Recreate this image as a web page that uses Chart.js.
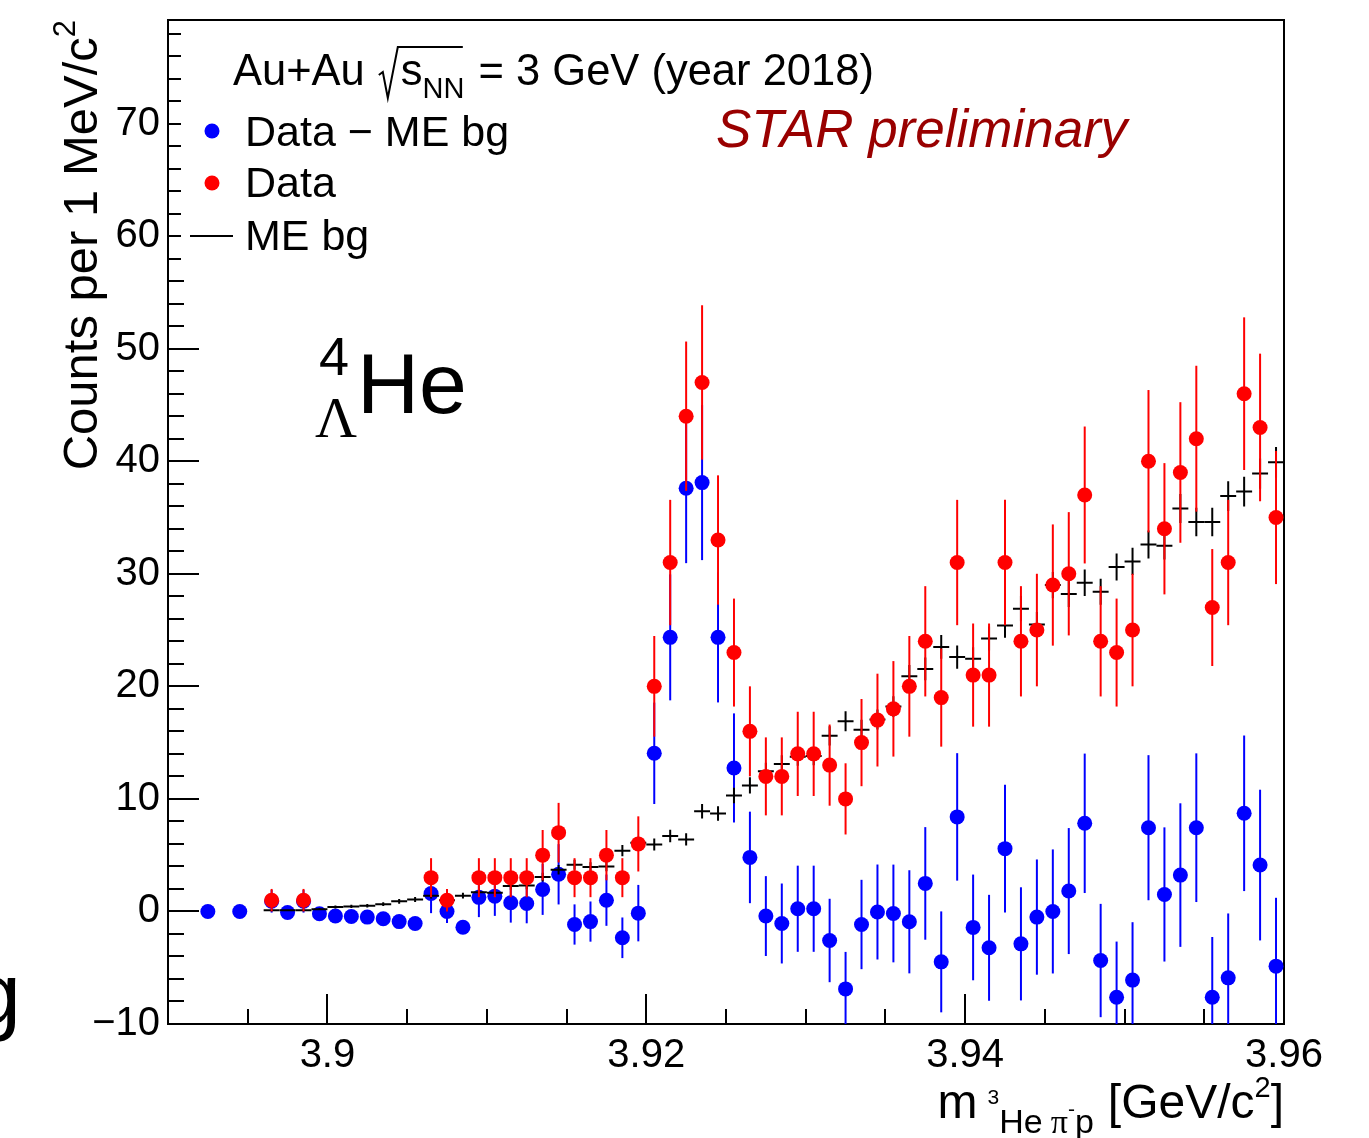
<!DOCTYPE html>
<html>
<head>
<meta charset="utf-8">
<script src="https://cdn.jsdelivr.net/npm/chart.js@4.4.1/dist/chart.umd.min.js"></script>
<style>
  html, body { margin: 0; padding: 0; background: #fff; }
  #c { display: block; }
</style>
</head>
<body>
<canvas id="c" width="1369" height="1138"></canvas>
<script>
// binning: 1 MeV bins starting at 3.890 GeV/c^2 (index = bin number)
const binLow = 3.890;
const binWidth = 0.001;

// raw same-event counts (Data), null = empty bin
const dataCounts = [
  null, null, null, null, null, null, 1, null, 1, null,
  null, null, null, null, null, null, 3, 1, null, 3,
  3, 3, 3, 5, 7, 3, 3, 5, 3, 6,
  20, 31, 44, 47, 33, 23, 16, 12, 12, 14,
  14, 13, 10, 15, 17, 18, 20, 24, 19, 31,
  21, 21, 31, 24, 25, 29, 30, 37, 24, 23,
  25, 40, 34, 39, 42, 27, 31, 46, 43, 35
];

// normalised mixed-event background (ME bg)
const meBg = [
  null, null, null, null, null, null, 0.1, 0.1, 0.1, 0.2,
  0.4, 0.45, 0.5, 0.65, 0.9, 1.07, 1.4, 1.0, 1.4, 1.7,
  1.65, 2.25, 2.3, 3.05, 3.7, 4.15, 3.95, 4.0, 5.4, 6.1,
  5.95, 6.7, 6.4, 8.9, 8.7, 10.3, 11.2, 12.45, 13.1, 13.75,
  13.8, 15.6, 16.9, 16.15, 17.05, 18.2, 20.9, 21.55, 23.5, 22.6,
  22.45, 24.25, 25.4, 26.9, 25.5, 29.0, 28.2, 29.2, 28.4, 30.6,
  31.1, 32.6, 32.5, 35.8, 34.6, 34.6, 36.9, 37.3, 38.9, 39.9
];

// Data - ME bg
const dataMinusBg = [
  null, null, 0, null, 0, null, 0.9, -0.1, 0.9, -0.2,
  -0.4, -0.45, -0.5, -0.65, -0.9, -1.07, 1.6, 0.0, -1.4, 1.25,
  1.36, 0.77, 0.71, 1.96, 3.3, -1.16, -0.9, 1.0, -2.34, -0.15,
  14.05, 24.35, 37.6, 38.1, 24.35, 12.75, 4.8, -0.41, -1.07, 0.24,
  0.24, -2.58, -6.88, -1.16, -0.05, -0.18, -0.92, 2.49, -4.48, 8.4,
  -1.42, -3.23, 5.58, -2.88, -0.5, 0.0, 1.81, 7.83, -4.36, -7.62,
  -6.1, 7.44, 1.51, 3.23, 7.44, -7.62, -5.9, 8.72, 4.12, -4.86
];

// ME bg normalisation (variance per count of the scaled mixed events)
const bgScale = 0.047;

const xMajorTicks = [3.90, 3.92, 3.94, 3.96];
const yMajorTicks = [-10, 0, 10, 20, 30, 40, 50, 60, 70];

const FONT = '"Liberation Sans", Arial, Helvetica, sans-serif';
const SERIF = '"Liberation Serif", "DejaVu Serif", serif';

function binCenter(i) { return binLow + (i + 0.5) * binWidth; }

// poisson errors on the counts
const redPts = [], bluePts = [], bgPts = [];
dataCounts.forEach((n, i) => {
  if (n != null) redPts.push({ x: binCenter(i), y: n, err: Math.sqrt(n) });
});
meBg.forEach((b, i) => {
  if (b != null) bgPts.push({ x: binCenter(i), y: b, err: Math.sqrt(bgScale * b) });
});
dataMinusBg.forEach((v, i) => {
  if (v == null) return;
  const n = dataCounts[i] || 0, b = meBg[i] || 0;
  bluePts.push({ x: binCenter(i), y: v, err: Math.sqrt(n + bgScale * b) });
});

const errorBars = {
  id: 'errorBars',
  beforeDatasetDraw(chart, args) {
    const ds = chart.data.datasets[args.index];
    const { ctx, chartArea: a, scales: { x, y } } = chart;
    ctx.save();
    ctx.beginPath();
    ctx.rect(a.left, a.top, a.right - a.left, a.bottom - a.top);
    ctx.clip();
    ctx.strokeStyle = ds.errColor;
    ctx.lineWidth = 2;
    ds.data.forEach(p => {
      const px = x.getPixelForValue(p.x);
      ctx.beginPath();
      if (p.err > 0) {
        ctx.moveTo(px, y.getPixelForValue(p.y - p.err));
        ctx.lineTo(px, y.getPixelForValue(p.y + p.err));
      }
      if (ds.halfWidth) {
        const py = y.getPixelForValue(p.y);
        ctx.moveTo(x.getPixelForValue(p.x - ds.halfWidth), py);
        ctx.lineTo(x.getPixelForValue(p.x + ds.halfWidth), py);
      }
      ctx.stroke();
    });
    ctx.restore();
  }
};

// ROOT style frame with inward ticks
const frame = {
  id: 'frame',
  beforeDatasetsDraw(chart) {
    const { ctx, chartArea: a, scales: { x, y } } = chart;
    ctx.save();
    ctx.strokeStyle = '#000';
    ctx.lineWidth = 2;
    ctx.beginPath();
    for (let v = -10; v <= 78; v += 2) {
      const py = Math.round(y.getPixelForValue(v));
      const len = yMajorTicks.includes(v) ? 31 : 16;
      ctx.moveTo(a.left, py); ctx.lineTo(a.left + len, py);
    }
    for (let k = 0; k <= 14; k++) {
      const v = binLow + k * 0.005;
      const px = Math.round(x.getPixelForValue(v));
      const len = (k % 4 === 2) ? 30 : 15;
      ctx.moveTo(px, a.bottom); ctx.lineTo(px, a.bottom - len);
    }
    ctx.stroke();
    // legend box fill hides the tick ends behind it
    ctx.fillStyle = '#fff';
    ctx.fillRect(a.left + 13, a.top + 2, 200, 240);
    ctx.strokeRect(a.left, a.top, a.right - a.left, a.bottom - a.top);
    ctx.restore();
  }
};

function drawRuns(ctx, runs, x0, y0, measureOnly) {
  let x = x0;
  runs.forEach(r => {
    ctx.font = r.font;
    if (!measureOnly) ctx.fillText(r.t, x + (r.dx || 0), y0 + (r.dy || 0));
    x += ctx.measureText(r.t).width + (r.dx || 0) + (r.after || 0);
  });
  return x - x0;
}

const labels = {
  id: 'labels',
  afterDatasetsDraw(chart) {
    const { ctx } = chart;
    ctx.save();
    ctx.fillStyle = '#000';
    ctx.textBaseline = 'alphabetic';
    ctx.textAlign = 'left';

    // header with sqrt(s_NN)
    let x = 233;
    ctx.font = '43.5px ' + FONT;
    ctx.fillText('Au+Au', x, 85);
    x += ctx.measureText('Au+Au').width + 14;
    ctx.strokeStyle = '#000';
    ctx.lineWidth = 2;
    ctx.beginPath();
    ctx.moveTo(x, 75); ctx.lineTo(x + 4, 72); ctx.lineTo(x + 9, 98);
    ctx.lineTo(x + 19, 47); ctx.lineTo(x + 84, 47);
    ctx.stroke();
    x += 22;
    ctx.fillText('s', x, 85);
    x += ctx.measureText('s').width;
    ctx.font = '29px ' + FONT;
    ctx.fillText('NN', x, 98);
    x += ctx.measureText('NN').width + 2;
    ctx.font = '43.5px ' + FONT;
    ctx.fillText(' = 3 GeV (year 2018)', x, 85);

    // legend entries
    ctx.fillStyle = '#0000ff';
    ctx.beginPath(); ctx.arc(212, 131, 7.5, 0, 2 * Math.PI); ctx.fill();
    ctx.fillStyle = '#ff0000';
    ctx.beginPath(); ctx.arc(212, 183, 7.5, 0, 2 * Math.PI); ctx.fill();
    ctx.beginPath(); ctx.moveTo(190, 236); ctx.lineTo(233, 236); ctx.stroke();
    ctx.fillStyle = '#000';
    ctx.font = '43px ' + FONT;
    ctx.fillText('Data \u2212 ME bg', 245, 146);
    ctx.fillText('Data', 245, 197);
    ctx.fillText('ME bg', 245, 250);

    // STAR preliminary
    ctx.fillStyle = '#990000';
    ctx.font = 'italic 53px ' + FONT;
    ctx.fillText('STAR preliminary', 716, 147);

    // hypernucleus label
    ctx.fillStyle = '#000';
    ctx.font = '54px ' + FONT;
    ctx.fillText('4', 319, 375);
    ctx.font = '58px ' + SERIF;
    ctx.fillText('\u039B', 315, 437);
    ctx.font = '86px ' + FONT;
    ctx.fillText('He', 357, 413);

    // x axis title, right aligned at frame end
    const xRuns = [
      { t: 'm', font: '48px ' + FONT, after: 10 },
      { t: '3', font: '21px ' + FONT, dy: -14 },
      { t: 'He', font: '34px ' + FONT, dy: 15, after: 8 },
      { t: '\u03C0', font: '34px ' + SERIF, dy: 15 },
      { t: '-', font: '21px ' + FONT, dy: -2 },
      { t: 'p', font: '34px ' + FONT, dy: 15, after: 14 },
      { t: '[GeV/c', font: '48px ' + FONT },
      { t: '2', font: '29px ' + FONT, dy: -21 },
      { t: ']', font: '48px ' + FONT }
    ];
    const wX = drawRuns(ctx, xRuns, 0, 0, true);
    drawRuns(ctx, xRuns, chart.chartArea.right - wX, 1118, false);

    // y axis title, rotated, ending at frame top
    const yRuns = [
      { t: 'Counts per 1 MeV/c', font: '49px ' + FONT },
      { t: '2', font: '31px ' + FONT, dy: -22 }
    ];
    const wY = drawRuns(ctx, yRuns, 0, 0, true);
    ctx.save();
    ctx.translate(97, chart.chartArea.top + wY);
    ctx.rotate(-Math.PI / 2);
    drawRuns(ctx, yRuns, 0, 0, false);
    ctx.restore();

    // stray glyph cut at the page edge
    ctx.font = '88px ' + FONT;
    ctx.fillText('g', -28, 1024);
    ctx.restore();
  }
};

Chart.defaults.font.family = FONT;
Chart.defaults.color = '#000';

function noPad(s) {
  s.paddingTop = 0; s.paddingBottom = 0;
  s.paddingLeft = 0; s.paddingRight = 0;
}

new Chart(document.getElementById('c'), {
  type: 'scatter',
  data: {
    datasets: [
      { label: 'Data', data: redPts, order: 1, errColor: '#ff0000',
        backgroundColor: '#ff0000', borderWidth: 0, pointRadius: 7.5 },
      { label: 'ME bg', data: bgPts, order: 2, errColor: '#000000', halfWidth: binWidth / 2,
        backgroundColor: '#000', borderWidth: 0, pointRadius: 0 },
      { label: 'Data \u2212 ME bg', data: bluePts, order: 3, errColor: '#0000ff',
        backgroundColor: '#0000ff', borderWidth: 0, pointRadius: 7.5 }
    ]
  },
  options: {
    responsive: false,
    animation: false,
    devicePixelRatio: 1,
    layout: { padding: { left: 0, right: 85, top: 20, bottom: 0 } },
    plugins: { legend: { display: false }, tooltip: { enabled: false } },
    scales: {
      x: {
        type: 'linear', min: 3.89, max: 3.96,
        grid: { display: false, drawTicks: false },
        border: { display: false },
        afterFit: s => { s.height = 114; noPad(s); },
        ticks: {
          stepSize: 0.005, autoSkip: false, maxRotation: 0, padding: 8,
          font: { size: 40 },
          callback: v => {
            const m = xMajorTicks.find(t => Math.abs(t - v) < 1e-6);
            return m === undefined ? '' : String(m);
          }
        }
      },
      y: {
        min: -10, max: 79.2,
        grid: { display: false, drawTicks: false },
        border: { display: false },
        afterFit: s => { s.width = 168; noPad(s); },
        ticks: {
          stepSize: 2, autoSkip: false, padding: 8,
          font: { size: 40 },
          callback: v => {
            if (!yMajorTicks.includes(v)) return '';
            return v < 0 ? '\u2212' + Math.abs(v) : String(v);
          }
        }
      }
    }
  },
  plugins: [errorBars, frame, labels]
});
</script>
</body>
</html>
